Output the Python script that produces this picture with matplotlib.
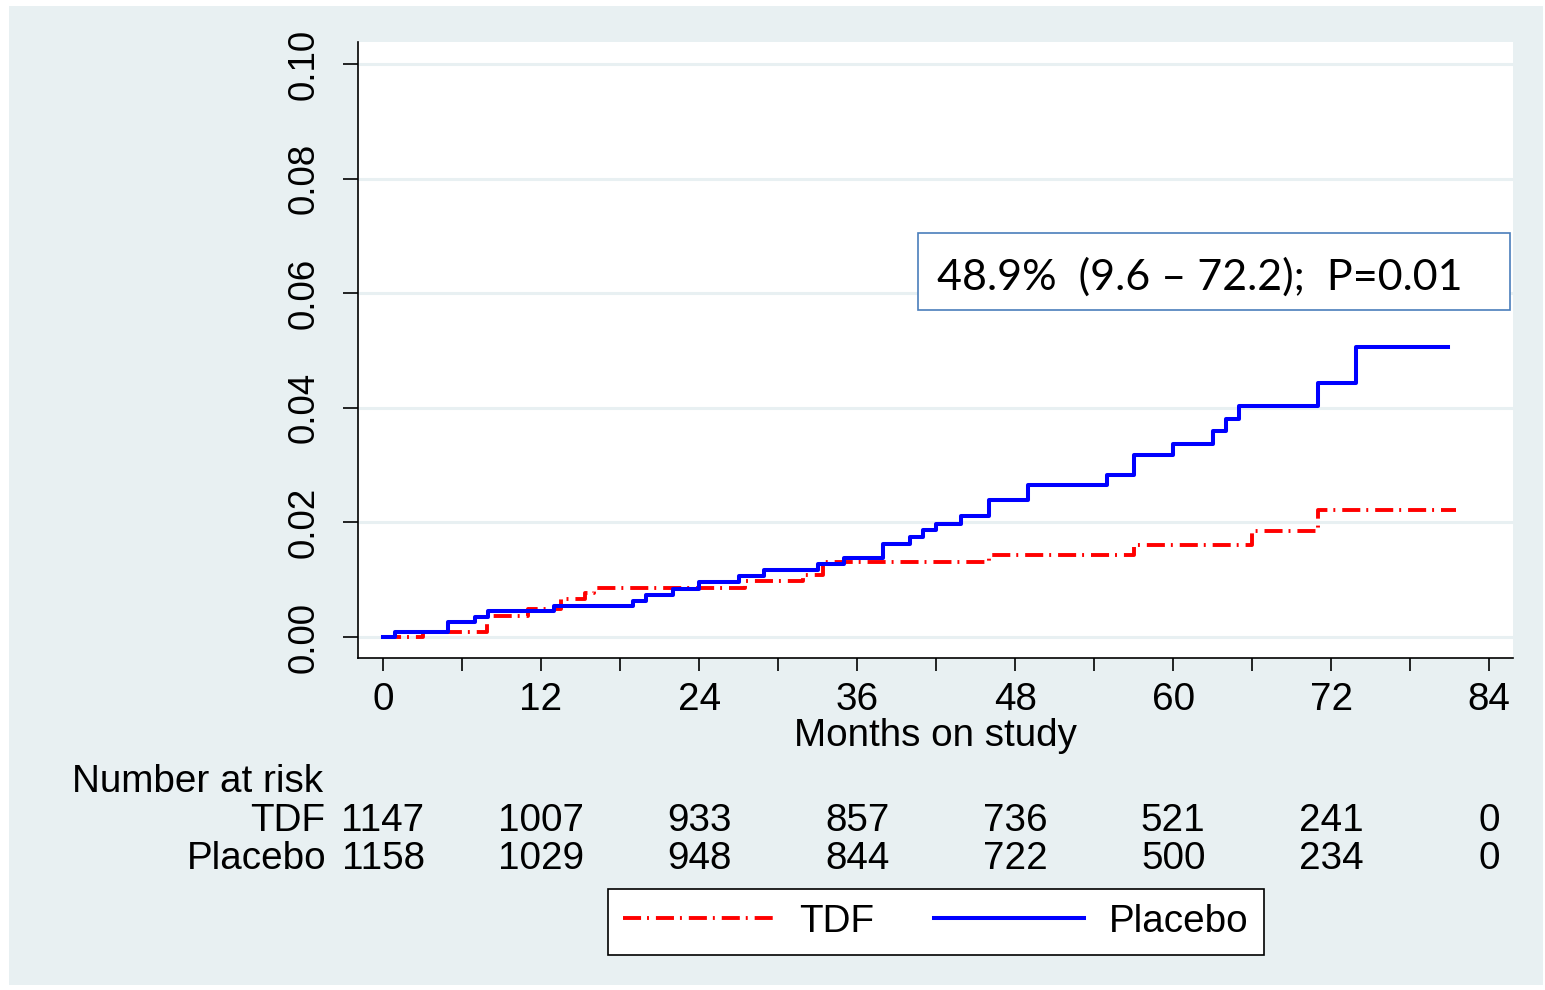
import numpy as np
import matplotlib
matplotlib.use("Agg")
import matplotlib.pyplot as plt
import matplotlib.transforms as mtransforms
from matplotlib.patches import Rectangle
from matplotlib.lines import Line2D

plt.rcParams['font.family'] = ['Liberation Sans', 'DejaVu Sans']
plt.rcParams['lines.scale_dashes'] = False

# Kaplan-Meier style cumulative incidence
placebo_t = [0, 0.9, 4.9, 7.0, 8.0, 13.0, 19.0, 20.0, 22.0, 24.0, 27.0, 28.9, 33.0, 35.0,
             38.0, 40.0, 41.0, 42.0, 43.9, 46.0, 49.0, 55.0, 57.0, 60.0, 63.0, 64.0, 65.0,
             71.0, 73.9, 80.9]
placebo_v = [0, 0.0008, 0.0027, 0.0035, 0.0045, 0.0054, 0.0063, 0.0074, 0.0084, 0.0096,
             0.0106, 0.0117, 0.0127, 0.0138, 0.0163, 0.0174, 0.0187, 0.0198, 0.0211, 0.0239,
             0.0265, 0.0283, 0.0318, 0.0337, 0.0360, 0.0381, 0.0403, 0.0443, 0.0507, 0.0507]

tdf_t = [0, 3.0, 7.9, 11.0, 13.5, 15.3, 16.0, 27.5, 31.9, 33.4, 46.0, 57.0, 66.0, 71.0, 81.5]
tdf_v = [0, 0.0008, 0.0037, 0.0049, 0.0067, 0.0077, 0.0086, 0.0097, 0.0109, 0.0131,
         0.0144, 0.0161, 0.0185, 0.0221, 0.0221]

risk_months = [0, 12, 24, 36, 48, 60, 72, 84]
risk_tdf = [1147, 1007, 933, 857, 736, 521, 241, 0]
risk_placebo = [1158, 1029, 948, 844, 722, 500, 234, 0]

FS = 27.8
W, H = 1545, 990
fig = plt.figure(figsize=(W / 100, H / 100), dpi=100)
fig.patch.set_facecolor('white')
fig.patches.append(Rectangle((9 / W, 1 - 985 / H), 1534 / W, 979 / H,
                             transform=fig.transFigure, facecolor='#E8F0F2',
                             edgecolor='none', zorder=-10))

ax = fig.add_axes([358 / W, 1 - 658 / H, (1513 - 358) / W, (658 - 42) / H])
ax.set_facecolor('white')

dashdot = (0, (13, 4.3, 1.4, 5))
ax.step(tdf_t, tdf_v, where='post', color='#FF0000', lw=2.8, linestyle=dashdot, zorder=3)
ax.step(placebo_t, placebo_v, where='post', color='#0000FF', lw=2.9, zorder=4)

ax.set_xlim(-1.9, 85.8)
ax.set_ylim(-0.00366, 0.10384)
ax.set_yticks(np.arange(0, 0.101, 0.02))
ax.set_yticklabels([f"{v:.2f}" for v in np.arange(0, 0.101, 0.02)], rotation=90, va='center')
ax.set_xticks(risk_months)
ax.set_xticks(np.arange(6, 84, 12), minor=True)
ax.grid(axis='y', color='#E8F0F2', lw=2.2, zorder=0)
ax.set_axisbelow(True)

for s in ['top', 'right']:
    ax.spines[s].set_visible(False)
for s in ['left', 'bottom']:
    ax.spines[s].set_linewidth(1.2)
ax.tick_params(axis='y', labelsize=26.5, length=11, width=1.2, pad=15)
ax.tick_params(axis='x', which='both', labelsize=FS, length=9.5, width=1.2, pad=8)
ax.set_xlabel('Months on study', fontsize=FS, labelpad=0)

# annotation box
fig.patches.append(Rectangle((918 / W, 1 - 310 / H), (1510 - 918) / W, (310 - 233) / H,
                             transform=fig.transFigure, facecolor='white',
                             edgecolor='#4A7EBB', lw=1.2, zorder=5))
fig.text(937 / W, 1 - 277 / H, '48.9%  (9.6 \u2013 72.2);  P=0.01', fontsize=31,
         family=['Lato', 'DejaVu Sans'], va='center', ha='left', zorder=6)

# number at risk table
trans = mtransforms.blended_transform_factory(ax.transData, fig.transFigure)
fig.text(72 / W, 1 - 782 / H, 'Number at risk', fontsize=FS, va='center', ha='left')
fig.text(325 / W, 1 - 821 / H, 'TDF', fontsize=FS, va='center', ha='right')
fig.text(327 / W, 1 - 859 / H, 'Placebo', fontsize=FS, va='center', ha='right')
for m, a, b in zip(risk_months, risk_tdf, risk_placebo):
    ax.text(m, 1 - 821 / H, str(a), transform=trans, fontsize=FS, ha='center', va='center',
            clip_on=False)
    ax.text(m, 1 - 859 / H, str(b), transform=trans, fontsize=FS, ha='center', va='center',
            clip_on=False)

handles = [Line2D([], [], color='#FF0000', lw=2.8, linestyle=dashdot),
           Line2D([], [], color='#0000FF', lw=2.9)]
leg = fig.legend(handles, ['TDF', 'Placebo'], loc='center',
                 bbox_to_anchor=(936 / W, 1 - 922 / H), ncol=2, fontsize=FS,
                 frameon=True, fancybox=False, edgecolor='black', framealpha=1,
                 handlelength=3.9, handletextpad=0.65, columnspacing=1.55, borderpad=0.4)
leg.get_frame().set_linewidth(1.2)

fig.savefig('out.png', dpi=100)
